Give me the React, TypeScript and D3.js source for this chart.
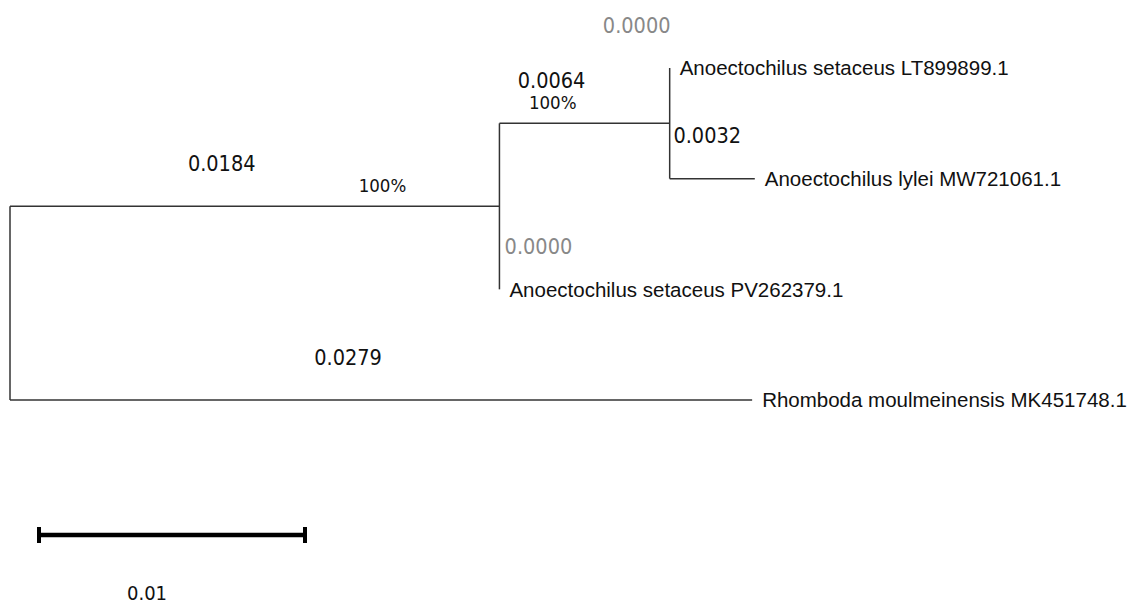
import React from 'react';
import * as d3 from 'd3';

// tree as parent table (MEGA style output)
const nodeIds = ['root', 'n1', 'n2', 'LT899899', 'MW721061', 'PV262379', 'MK451748'];
const parentIds = ['', 'root', 'n1', 'n2', 'n2', 'n1', 'root'];
const branchLengths = [0, 0.0184, 0.0064, 0.0, 0.0032, 0.0, 0.0279];
const bootstraps = [null, 100, 100, null, null, null, null];
const taxonNames = [
  '',
  '',
  '',
  'Anoectochilus setaceus LT899899.1',
  'Anoectochilus lylei MW721061.1',
  'Anoectochilus setaceus PV262379.1',
  'Rhomboda moulmeinensis MK451748.1',
];
const scaleBarValue = 0.01;

const W = 1131;
const H = 601;

// label nudges where MEGA moved the branch length text
const lenShift: Record<string, number> = { MW721061: 28, PV262379: 72 };

const App = () => {
  const rows = nodeIds.map((id, i) => ({
    id,
    parent: parentIds[i] || null,
    len: branchLengths[i],
    boot: bootstraps[i],
    name: taxonNames[i],
  }));

  const root = d3
    .stratify<any>()
    .id(d => d.id)
    .parentId(d => d.parent)(rows);

  // cumulative distance from root
  root.each((n: any) => {
    n.dist = n.parent ? n.parent.dist + n.data.len : 0;
  });

  const x = d3.scaleLinear().domain([0, 0.01]).range([10, 276]);
  const leaves = root.leaves();
  const y = d3
    .scalePoint<string>()
    .domain(leaves.map(l => l.id as string))
    .range([68, 400]);

  root.eachAfter((n: any) => {
    if (!n.children) n.py = y(n.id);
    else n.py = (n.children[0].py + n.children[n.children.length - 1].py) / 2;
    n.px = x(n.dist);
  });

  const nodes: any[] = root.descendants();
  const lineColor = '#333';
  const numFont = '"DejaVu Sans Condensed", "DejaVu Sans", sans-serif';

  const barX0 = 39;
  const barX1 = barX0 + (x(scaleBarValue) - x(0));
  const barY = 535;

  return (
    <svg
      width={W}
      height={H}
      style={{ position: 'absolute', left: 0, top: 0, background: '#fff' }}
    >
      {/* horizontal branches */}
      {nodes
        .filter(n => n.parent)
        .map(n => (
          <line
            key={'h' + n.id}
            x1={n.parent.px}
            x2={n.px}
            y1={n.py}
            y2={n.py}
            stroke={lineColor}
            strokeWidth={1.5}
          />
        ))}
      {/* vertical connectors */}
      {nodes
        .filter(n => n.children)
        .map(n => (
          <line
            key={'v' + n.id}
            x1={n.px}
            x2={n.px}
            y1={n.children[0].py}
            y2={n.children[n.children.length - 1].py}
            stroke={lineColor}
            strokeWidth={1.5}
          />
        ))}

      {/* branch lengths */}
      {nodes
        .filter(n => n.parent)
        .map(n => {
          const mid = (n.parent.px + n.px) / 2;
          return (
            <text
              key={'l' + n.id}
              x={mid - 33 + (lenShift[n.id] || 0)}
              y={n.py - 35.5}
              textAnchor="middle"
              fontFamily={numFont}
              fontSize={21.5}
              fill={n.data.len === 0 ? '#888' : '#111'}
            >
              {n.data.len.toFixed(4)}
            </text>
          );
        })}

      {/* bootstrap values */}
      {nodes
        .filter(n => n.data.boot != null)
        .map(n => (
          <text
            key={'b' + n.id}
            x={n.px - 117}
            y={n.py - 14}
            textAnchor="middle"
            fontFamily={numFont}
            fontSize={18.5}
            fill="#111"
          >
            {n.data.boot}%
          </text>
        ))}

      {/* taxa */}
      {leaves.map((n: any) => (
        <text
          key={'t' + n.id}
          x={n.px + 10}
          y={n.py}
          dy="0.35em"
          fontFamily='"Liberation Sans", Arial, sans-serif'
          fontSize={20.5}
          fill="#111"
        >
          {n.data.name}
        </text>
      ))}

      {/* scale bar */}
      <line x1={barX0} x2={barX1} y1={barY} y2={barY} stroke="#000" strokeWidth={4.5} />
      <line x1={barX0} x2={barX0} y1={barY - 8} y2={barY + 8} stroke="#000" strokeWidth={4} />
      <line x1={barX1} x2={barX1} y1={barY - 8} y2={barY + 8} stroke="#000" strokeWidth={4} />
      <text
        x={147}
        y={600}
        textAnchor="middle"
        fontFamily={numFont}
        fontSize={20}
        fill="#111"
      >
        {scaleBarValue}
      </text>
    </svg>
  );
};

export default App;
